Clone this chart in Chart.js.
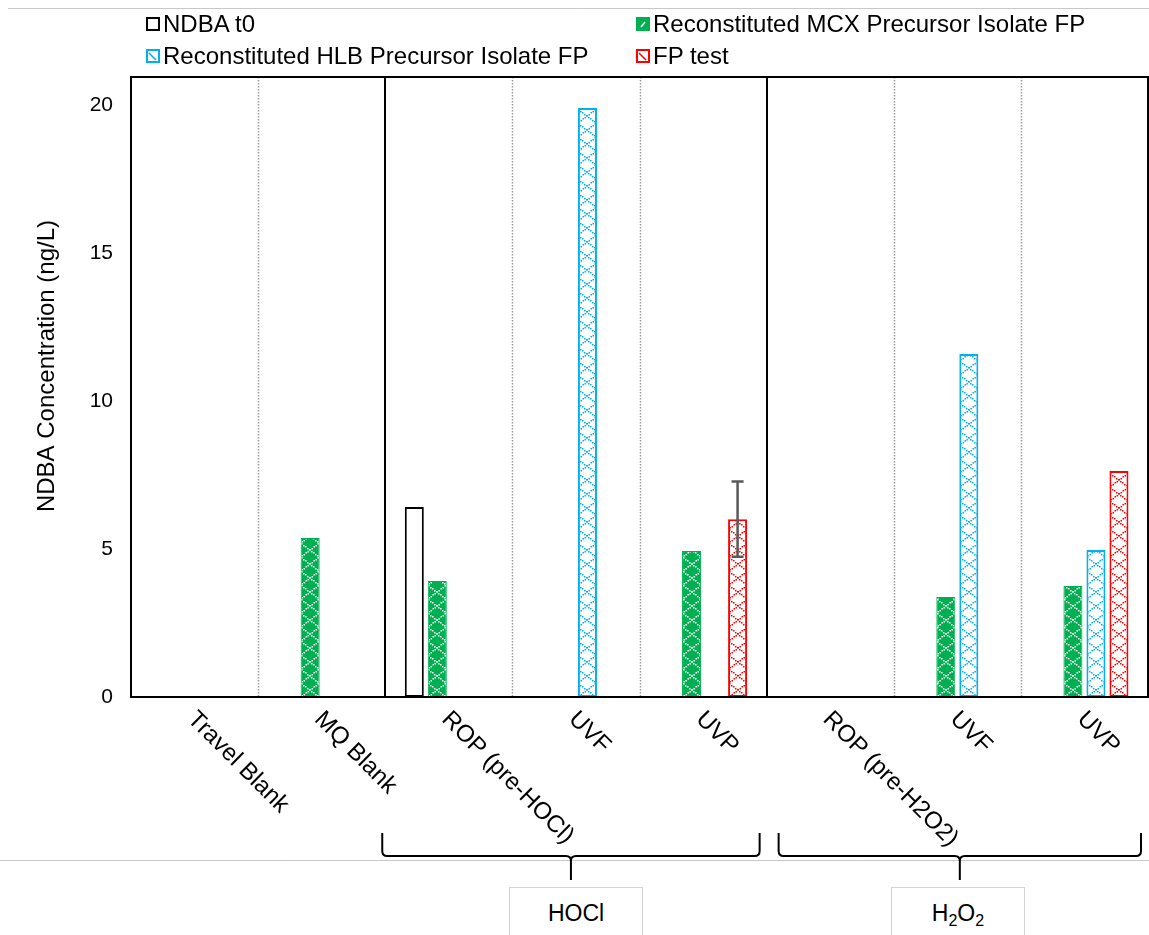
<!DOCTYPE html>
<html lang="en">
<head>
<meta charset="UTF-8">
<title>NDBA Concentration</title>
<style>
  body { margin: 0; background: #fff; font-family: "Liberation Sans", Arial, sans-serif; }
  #wrap { position: relative; width: 1149px; height: 935px; overflow: hidden; }
  #chart { position: absolute; left: 0; top: 0; }
  .legend-item { position: absolute; height: 30px; display: flex; align-items: center; font-size: 24px; color: #000; white-space: nowrap; }
  .legend-item canvas { margin-right: 3px; }
  .group-box { position: absolute; top: 887px; width: 132px; height: 60px; border: 1px solid #d4d4d4; background: #fff; font-size: 23px; text-align: center; line-height: 50px; color: #000; }
  .group-box sub { font-size: 16px; vertical-align: -5px; line-height: 0; }
</style>
</head>
<body>
<div id="wrap">
  <canvas id="chart" width="1149" height="935"></canvas>
</div>

<script src="https://cdn.jsdelivr.net/npm/chart.js"></script>
<script>
// ---- data ----
var categories = ['Travel Blank', 'MQ Blank', 'ROP (pre-HOCl)', 'UVF', 'UVP', 'ROP (pre-H2O2)', 'UVF', 'UVP'];
var ndbaT0  = [null, null, 6.42, null, null, null, null, null];
var mcxFP   = [null, 5.37, 3.92, null, 4.93, null, 3.38, 3.75];
var hlbFP   = [null, null, null, 19.9, null, null, 11.59, 4.97];
var fpTest  = [null, null, null, null, 6.01, null, null, 7.64];
var fpError = [null, null, null, null, 1.27, null, null, null];
var yTicks  = [0, 5, 10, 15, 20];
var yTitle = 'NDBA Concentration (ng/L)';
var seriesNames = ['NDBA t0', 'Reconstituted MCX Precursor Isolate FP', 'Reconstituted HLB Precursor Isolate FP', 'FP test'];
var solidAfter = [1, 4];          // solid separator after these category indexes
var groupLabels = ['HOCl', 'H<sub>2</sub>O<sub>2</sub>'];
var groupStart = [2, 5];
var groupEnd = [4, 7];

var GREEN = '#00b050', BLUE = '#00b0f0', RED = '#ff0000';
var TILE_W = 18, TILE_H = 14;
var CAT_PCT = 0.724, BAR_PCT = 0.826;

Chart.defaults.font.family = '"Liberation Sans", Arial, sans-serif';
Chart.defaults.color = '#000';

// dotted-diamond fill tile
function makeTile(bg, fg) {
    var c = document.createElement('canvas');
    c.width = TILE_W; c.height = TILE_H;
    var g = c.getContext('2d');
    g.fillStyle = bg;
    g.fillRect(0, 0, TILE_W, TILE_H);
    g.fillStyle = fg;
    for (var k = 0; k < TILE_W; k += 2) {
        var yy = Math.round(k * TILE_H / TILE_W);
        g.fillRect(k, yy, 1.5, 1.5);
        g.fillRect(TILE_W - 1.5 - k, yy, 1.5, 1.5);
    }
    return c;
}
var tiles = [null, makeTile(GREEN, '#fff'), makeTile('#fff', BLUE), makeTile('#fff', RED)];

// pattern lined up with each bar so the X's sit in the middle
function barFill(dsIndex, plain) {
    return function(c) {
        var chart = c.chart;
        var x = chart.scales.x, y = chart.scales.y;
        if (!x || !y || c.dataIndex === undefined) return plain;
        var pat = chart.ctx.createPattern(tiles[dsIndex], 'repeat');
        var slot = (x.width / categories.length) * CAT_PCT / 4;
        var cx = x.getPixelForValue(c.dataIndex) + (dsIndex - 1.5) * slot;
        pat.setTransform(new DOMMatrix().translate(Math.round(cx - TILE_W / 2), Math.round(y.bottom)));
        return pat;
    };
}

function boundary(x, i) {
    // pixel between category i and i+1
    if (i < 0) return x.left;
    if (i >= categories.length - 1) return x.right;
    return (x.getPixelForValue(i) + x.getPixelForValue(i + 1)) / 2;
}

function drawBrace(ctx, x0, x1, yTop, yMid, yTip) {
    var cx = (x0 + x1) / 2, r = 5;
    ctx.beginPath();
    ctx.moveTo(x0, yTop);
    ctx.lineTo(x0, yMid - r);
    ctx.quadraticCurveTo(x0, yMid, x0 + r, yMid);
    ctx.lineTo(cx - r, yMid);
    ctx.quadraticCurveTo(cx, yMid, cx, yMid + r);
    ctx.lineTo(cx, yTip);
    ctx.moveTo(x1, yTop);
    ctx.lineTo(x1, yMid - r);
    ctx.quadraticCurveTo(x1, yMid, x1 - r, yMid);
    ctx.lineTo(cx + r, yMid);
    ctx.quadraticCurveTo(cx, yMid, cx, yMid + r);
    ctx.stroke();
}

var braceLeftPad = [-3, 12];
var braceRightPad = [-7, -7];
var boxShift = [3, -4];

var decor = {
    id: 'decor',
    beforeDatasetsDraw: function(chart) {
        var ctx = chart.ctx, a = chart.chartArea, x = chart.scales.x;
        ctx.save();
        for (var i = 0; i < categories.length - 1; i++) {
            var bx = Math.round(boundary(x, i));
            ctx.beginPath();
            if (solidAfter.indexOf(i) >= 0) {
                ctx.strokeStyle = '#000'; ctx.lineWidth = 2; ctx.setLineDash([]);
            } else {
                ctx.strokeStyle = '#9a9a9a'; ctx.lineWidth = 1.5; ctx.setLineDash([1.5, 1.5]);
                bx += 0.5;
            }
            ctx.moveTo(bx, a.top);
            ctx.lineTo(bx, a.bottom);
            ctx.stroke();
        }
        ctx.restore();
    },
    afterDatasetsDraw: function(chart) {
        var ctx = chart.ctx, a = chart.chartArea, y = chart.scales.y;
        ctx.save();
        // error bars on FP test
        var meta = chart.getDatasetMeta(3);
        ctx.strokeStyle = '#595959';
        ctx.lineWidth = 2.5;
        fpError.forEach(function(e, i) {
            if (e == null || fpTest[i] == null) return;
            var el = meta.data[i];
            var yt = y.getPixelForValue(fpTest[i] + e);
            var yb = y.getPixelForValue(fpTest[i] - e);
            ctx.beginPath();
            ctx.moveTo(el.x, yt); ctx.lineTo(el.x, yb);
            ctx.moveTo(el.x - 6, yt); ctx.lineTo(el.x + 6, yt);
            ctx.moveTo(el.x - 6, yb); ctx.lineTo(el.x + 6, yb);
            ctx.stroke();
        });
        // plot frame
        ctx.strokeStyle = '#000';
        ctx.lineWidth = 2;
        ctx.strokeRect(a.left, a.top, a.right - a.left, a.bottom - a.top);
        ctx.restore();
    },
    afterDraw: function(chart) {
        var ctx = chart.ctx, x = chart.scales.x;
        ctx.save();
        // thin grey rules
        ctx.strokeStyle = '#c8c8c8';
        ctx.lineWidth = 1;
        ctx.beginPath();
        ctx.moveTo(8, 8.5); ctx.lineTo(1149, 8.5);
        ctx.moveTo(0, 860.5); ctx.lineTo(1149, 860.5);
        ctx.stroke();

        ctx.fillStyle = '#000';
        // y axis title, a little above the middle as in the source
        ctx.save();
        ctx.font = '24px "Liberation Sans", Arial, sans-serif';
        ctx.textAlign = 'center';
        ctx.textBaseline = 'middle';
        ctx.translate(47, 366);
        ctx.rotate(-Math.PI / 2);
        ctx.fillText(yTitle, 0, 0);
        ctx.restore();

        // category labels, turned 45 degrees clockwise
        ctx.font = '24px "Liberation Sans", Arial, sans-serif';
        ctx.textAlign = 'left';
        ctx.textBaseline = 'top';
        categories.forEach(function(lab, i) {
            ctx.save();
            ctx.translate(x.getPixelForValue(i) + 5, 707);
            ctx.rotate(Math.PI / 4);
            ctx.fillText(lab, 0, 0);
            ctx.restore();
        });

        // braces under the treatment groups
        ctx.strokeStyle = '#000';
        ctx.lineWidth = 2;
        groupStart.forEach(function(s, g) {
            var x0 = boundary(x, s - 1) + braceLeftPad[g];
            var x1 = boundary(x, groupEnd[g]) + braceRightPad[g];
            drawBrace(ctx, x0, x1, 833, 856, 880);
        });
        ctx.restore();
    }
};

var chart = new Chart(document.getElementById('chart'), {
    type: 'bar',
    data: {
        labels: categories,
        datasets: [
            { label: seriesNames[0], data: ndbaT0, backgroundColor: '#fff', borderColor: '#000', borderWidth: 2 },
            { label: seriesNames[1], data: mcxFP, backgroundColor: barFill(1, GREEN), borderColor: GREEN, borderWidth: 1 },
            { label: seriesNames[2], data: hlbFP, backgroundColor: barFill(2, '#fff'), borderColor: BLUE, borderWidth: 2 },
            { label: seriesNames[3], data: fpTest, backgroundColor: barFill(3, '#fff'), borderColor: RED, borderWidth: 2 }
        ]
    },
    options: {
        responsive: false,
        animation: false,
        devicePixelRatio: 1,
        categoryPercentage: CAT_PCT,
        barPercentage: BAR_PCT,
        borderSkipped: false,
        layout: { padding: { top: 77, right: 1, bottom: 0, left: 0 } },
        plugins: { legend: { display: false }, tooltip: { enabled: false } },
        scales: {
            x: {
                grid: { display: false, drawTicks: false },
                border: { display: false },
                ticks: { display: false },
                afterFit: function(s) { s.height = 238; }
            },
            y: {
                min: 0,
                max: 20.95,
                grid: { display: false, drawTicks: false },
                border: { display: false },
                ticks: { font: { size: 21 }, color: '#000', padding: 18 },
                afterBuildTicks: function(s) { s.ticks = yTicks.map(function(v) { return { value: v }; }); },
                afterFit: function(s) { s.width = 131; }
            }
        }
    },
    plugins: [decor]
});

// legend (two columns, two rows)
var wrap = document.getElementById('wrap');
var legendPos = [[146, 9], [636, 9], [146, 41], [636, 41]];
function drawSwatch(cv, i) {
    var g = cv.getContext('2d');
    if (i === 0) {
        g.fillStyle = '#fff'; g.fillRect(0, 0, 14, 14);
        g.strokeStyle = '#000'; g.lineWidth = 2; g.strokeRect(1, 1, 12, 12);
        return;
    }
    var col = i === 1 ? GREEN : (i === 2 ? BLUE : RED);
    g.fillStyle = col; g.fillRect(0, 0, 14, 14);
    g.fillStyle = i === 1 ? GREEN : '#fff';
    g.fillRect(2, 2, 10, 10);
    g.strokeStyle = i === 1 ? '#fff' : col;
    g.lineWidth = 1.5;
    g.beginPath();
    if (i === 1) { g.moveTo(5, 10); g.lineTo(9, 5); }
    else { g.moveTo(3, 4); g.lineTo(10, 11); }
    g.stroke();
}
seriesNames.forEach(function(name, i) {
    var item = document.createElement('div');
    item.className = 'legend-item';
    item.style.left = legendPos[i][0] + 'px';
    item.style.top = legendPos[i][1] + 'px';
    var cv = document.createElement('canvas');
    cv.width = 14; cv.height = 14;
    drawSwatch(cv, i);
    var span = document.createElement('span');
    span.textContent = name;
    item.appendChild(cv);
    item.appendChild(span);
    wrap.appendChild(item);
});

// boxed group names below the braces
var xs = chart.scales.x;
groupLabels.forEach(function(lab, g) {
    var x0 = boundary(xs, groupStart[g] - 1) + braceLeftPad[g];
    var x1 = boundary(xs, groupEnd[g]) + braceRightPad[g];
    var box = document.createElement('div');
    box.className = 'group-box';
    box.innerHTML = lab;
    box.style.left = Math.round((x0 + x1) / 2 - 65 + boxShift[g]) + 'px';
    wrap.appendChild(box);
});
</script>
</body>
</html>
